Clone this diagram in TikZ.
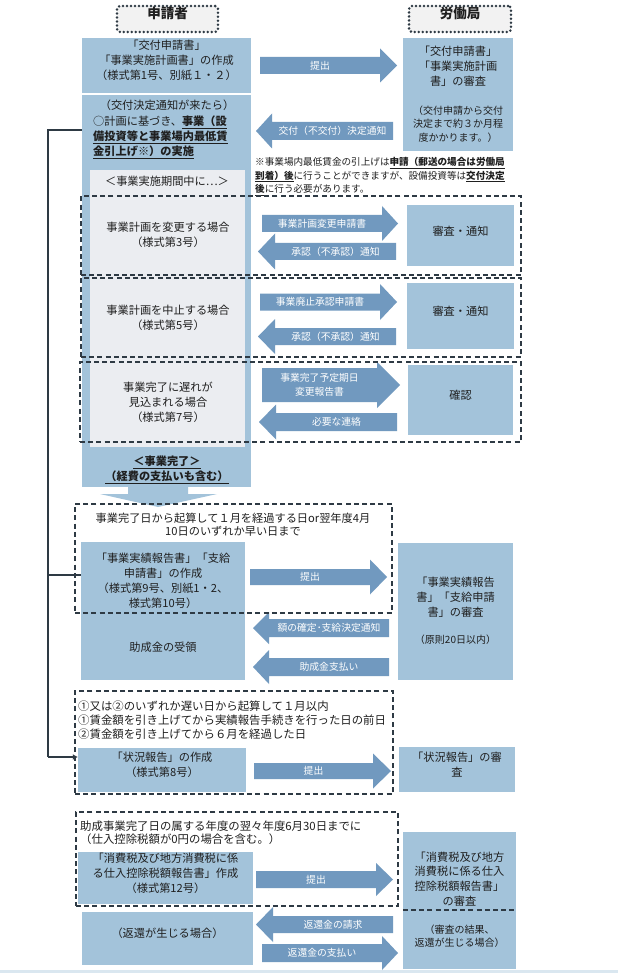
\documentclass[tikz,border=0pt]{standalone}
\usepackage{fontspec}
\setmainfont{Noto Sans CJK JP}
\usetikzlibrary{fit,arrows.meta}
\definecolor{cBox}{HTML}{A3C3DA}
\definecolor{cArr}{HTML}{7199BF}
\definecolor{cInner}{HTML}{EBEDF1}
\definecolor{cLine}{HTML}{2E3A44}
\definecolor{cText}{HTML}{1F1F1F}
\definecolor{cHdr}{HTML}{F2F2F2}
\newcommand\fsz{\fontsize{11.2}{15}\selectfont}
\newcommand\fsm{\fontsize{10}{13.5}\selectfont}
\newcommand\fnote{\fontsize{9.6}{13.5}\selectfont}
\newcommand\fsa{\fontsize{9.8}{13.5}\selectfont}
\newcommand\bu[1]{\underline{\textbf{#1}}}
% right arrow: name, tail x, tip x, center y, body half, head half, head length, text
\newcommand\rarr[8]{%
 \fill[cArr] (#2,#4-#5) -- (#3-#7,#4-#5) -- (#3-#7,#4-#6) -- (#3,#4) -- (#3-#7,#4+#6) -- (#3-#7,#4+#5) -- (#2,#4+#5) -- cycle;
 \node[alabel] (#1) at ({(#2+#3-#7)/2},#4) {#8};}
\newcommand\larr[8]{%
 \fill[cArr] (#2,#4-#5) -- (#3+#7,#4-#5) -- (#3+#7,#4-#6) -- (#3,#4) -- (#3+#7,#4+#6) -- (#3+#7,#4+#5) -- (#2,#4+#5) -- cycle;
 \node[alabel] (#1) at ({(#2+#3+#7)/2},#4) {#8};}
\begin{document}
\begin{tikzpicture}[x=1pt,y=-1pt,
  box/.style={fill=cBox, inner sep=0pt, text=cText, align=center, font=\fsz},
  innerbox/.style={fill=cInner, inner sep=0pt},
  hdr/.style={draw=cLine, fill=cHdr, line width=2.8pt, dash pattern=on 0pt off 4pt, line cap=round, rounded corners=3pt, inner sep=0pt, font=\fontsize{13.5}{15}\selectfont\bfseries, text=cText},
  dashbox/.style={draw=cLine, line width=1.7pt, dash pattern=on 5pt off 3.2pt},
  t11/.style={font=\fsz, text=cText, align=center, inner sep=0pt},
  t10/.style={font=\fsm, text=cText, align=center, inner sep=0pt},
  notestyle/.style={font=\fnote, text=cText, align=left, inner sep=0pt},
  alabel/.style={font=\fsa, text=white, align=center, inner sep=0pt},
  conn/.style={draw=cLine, line width=2pt}]
\useasboundingbox (0,0) rectangle (618,973);
\fill[white] (0,0) rectangle (618,973);
\fill[cBox!40] (0,970) rectangle (618,973);

% headers
\node[hdr, fit={(117,6)(218,32)}] (hdrA) {申請者};
\node[hdr, fit={(409,6)(511,32)}] (hdrB) {労働局};

% top row
\node[box, fit={(82,38)(251,93)}] (b1) {「交付申請書」\\「事業実施計画書」の作成\\（様式第1号、別紙１・２）};
\node[box, fit={(403,38)(513,151)}] (r1) {};
\node[t11] (r1t) at (458,66) {「交付申請書」\\「事業実施計画\\書」の審査};
\node[t10] (r1n) at (458,124) {（交付申請から交付\\決定まで約３か月程\\度かかります。）};
\rarr{a1}{260}{397}{65.5}{8.5}{17}{17}{提出}
\larr{a2}{393}{256}{131}{9}{17.5}{16}{交付（不交付）決定通知}

% column
\node[box, fit={(82,95)(251,487)}] (col) {};
\fill[cBox] (128,486) -- (128,494) -- (100,494) -- (158,507) -- (217,494) -- (188,494) -- (188,486) -- cycle;
\node[innerbox, fit={(90,170)(245,447)}] (inner) {};
\node[t11] (colhead) at (167,105) {（交付決定通知が来たら）};
\node[t11, anchor=west, align=left] (colbody) at (93,137) {○計画に基づき、\bu{事業（設}\\\bu{備投資等と事業場内最低賃}\\\bu{金引上げ※）の実施}};
\node[t11] (period) at (167,181) {＜事業実施期間中に…＞};
\node[t11] (done) at (167,469.5) {\bu{＜事業完了＞}\\\bu{（経費の支払いも含む）}};

\node[notestyle, anchor=west] (note) at (255,176.5) {※事業場内最低賃金の引上げは\bu{申請（郵送の場合は労働局}\\\bu{到着）後}に行うことができますが、設備投資等は\bu{交付決定}\\\bu{後}に行う必要があります。};

% case 1
\node[t11] (d1t) at (168,234.5) {事業計画を変更する場合\\（様式第3号）};
\node[box, fit={(407,205)(514,266)}] (rev1) {審査・通知};
\rarr{a3}{262}{398}{223.5}{8.5}{17.5}{16}{事業計画変更申請書}
\larr{a4}{396}{258}{251.5}{8.5}{18}{17}{承認（不承認）通知}
\node[dashbox, fit={(81,196)(521,275)}, inner sep=0pt] (D1) {};

% case 2
\node[t11] (d2t) at (168,317.5) {事業計画を中止する場合\\（様式第5号）};
\node[box, fit={(407,283)(514,349)}] (rev2) {審査・通知};
\rarr{a5}{260}{397}{302}{8.5}{18}{17}{事業廃止承認申請書}
\larr{a6}{396}{258}{336.5}{8.5}{17.5}{17}{承認（不承認）通知}
\node[dashbox, fit={(81,278)(521,357)}, inner sep=0pt] (D2) {};

% case 3
\node[t11] (d3t) at (168,402) {事業完了に遅れが\\見込まれる場合\\（様式第7号）};
\node[box, fit={(408,365)(513,435)}] (conf) {確認};
\rarr{a7}{262}{400}{385}{17}{23}{23}{事業完了予定期日\\変更報告書}
\larr{a8}{397}{259}{422}{9}{17.5}{17}{必要な連絡}
\node[dashbox, fit={(80,362)(521,442)}, inner sep=0pt] (D3) {};

% section 2
\node[box, fit={(81,542)(245,680)}] (b2) {};
\node[t11] (b2t) at (163,580.5) {「事業実績報告書」「支給\\申請書」の作成\\（様式第9号、別紙1・2、\\様式第10号）};
\node[t11] (b2r) at (163,647) {助成金の受領};
\node[box, fit={(398,543)(513,680)}] (r2) {};
\node[t11] (r2t) at (455.5,597) {「事業実績報告\\書」「支給申請\\書」の審査};
\node[t10] (r2n) at (455.5,640) {（原則20日以内）};
\node[t11, font=\fontsize{11.2}{13}\selectfont] (e1t) at (233,524.5) {事業完了日から起算して１月を経過する日or翌年度4月\\10日のいずれか早い日まで};
\rarr{a9}{250}{387}{577}{8}{17.5}{17}{提出}
\larr{a10}{389}{253}{628}{9}{16}{16}{額の確定･支給決定通知}
\larr{a11}{389}{253}{667}{9}{17}{16}{助成金支払い}
\node[dashbox, fit={(75,504)(392,613)}, inner sep=0pt] (E1) {};

% section 3
\node[t11, anchor=west, align=left, font=\fontsize{11.4}{14}\selectfont] (e2t) at (78,720) {①又は②のいずれか遅い日から起算して１月以内\\①賃金額を引き上げてから実績報告手続きを行った日の前日\\②賃金額を引き上げてから６月を経過した日};
\node[box, fit={(78,748)(246,792)}] (b3) {「状況報告」の作成\\（様式第8号）};
\node[box, fit={(399,747)(515,792)}] (r3) {「状況報告」の審\\査};
\rarr{a12}{254}{391}{771}{8}{17.5}{18}{提出}
\node[dashbox, fit={(75,691)(393,794)}, inner sep=0pt] (E2) {};

% section 4
\node[t11, anchor=west, align=left, font=\fontsize{11.4}{13}\selectfont] (e3t) at (80,832.5) {助成事業完了日の属する年度の翌々年度6月30日までに\\（仕入控除税額が0円の場合を含む。）};
\node[box, fit={(78,852)(253,904)}] (b4) {「消費税及び地方消費税に係\\る仕入控除税額報告書」作成\\（様式第12号）};
\node[box, fit={(403,832)(516,969)}] (r4) {};
\node[t11, font=\fontsize{11.2}{14.7}\selectfont] (r4t) at (459.5,879) {「消費税及び地方\\消費税に係る仕入\\控除税額報告書」\\の審査};
\node[t10] (r4n) at (459.5,936) {（審査の結果、\\返還が生じる場合）};
\coordinate (r4split) at (459.5,910);
\draw[dashbox] (r4.west |- r4split) -- (r4.east |- r4split);
\rarr{a13}{256}{393}{879.5}{8.5}{16.5}{17}{提出}
\node[dashbox, fit={(76,812)(398,906)}, inner sep=0pt] (E3) {};
\node[box, fit={(82,912)(253,965)}] (b5) {（返還が生じる場合）};
\larr{a14}{393}{256}{924.5}{8.5}{17.5}{17}{返還金の請求}
\rarr{a15}{262}{398}{953}{9}{17}{16}{返還金の支払い}

% left connector
\coordinate (jTop) at (48,130);
\coordinate (jMid) at (48,575);
\coordinate (jBot) at (48,757);
\draw[conn] (col.west |- jTop) -- (jTop) -- (jBot);
\draw[conn] (jMid) -- (jMid -| b2.west);
\draw[conn, -{Latex[length=5pt,width=6pt]}] (jBot) -- (jBot -| b3.west);
\end{tikzpicture}
\end{document}
